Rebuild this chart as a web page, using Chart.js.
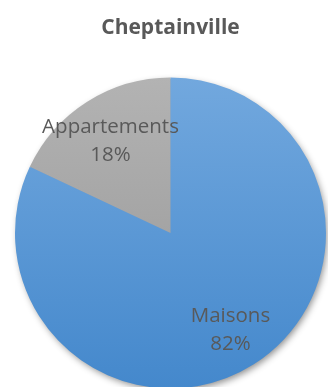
<!DOCTYPE html>
<html lang="fr">
<head>
    <meta charset="UTF-8">
    <title>Cheptainville</title>
    <style>
        html, body { margin: 0; padding: 0; background: #ffffff; overflow: hidden; }
        #wrap { position: relative; width: 328px; height: 389px; }
    </style>
</head>
<body>
    <div id="wrap"><canvas id="pieChart"></canvas></div>

    <script src="https://cdn.jsdelivr.net/npm/chart.js@4.4.1/dist/chart.umd.min.js"></script>
    <script>
        // données
        const labels = ['Maisons', 'Appartements'];
        const values = [82, 18];
        const topColors = ['#72a8de', '#b3b3b3'];
        const bottomColors = ['#4488cc', '#959595'];

        const fillFor = (ctx) => {
            const chart = ctx.chart;
            const area = chart.chartArea;
            if (!area) return topColors[ctx.dataIndex];
            const g = chart.ctx.createLinearGradient(0, area.top, 0, area.bottom);
            g.addColorStop(0, topColors[ctx.dataIndex]);
            g.addColorStop(1, bottomColors[ctx.dataIndex]);
            return g;
        };

        // ombre douce sous le disque
        const shadowPlugin = {
            id: 'shadow',
            beforeDatasetsDraw(chart) {
                const arc = chart.getDatasetMeta(0).data[0];
                if (!arc) return;
                const c = chart.ctx;
                c.save();
                c.shadowColor = 'rgba(0,0,0,0.45)';
                c.shadowBlur = 7;
                c.shadowOffsetX = 2;
                c.shadowOffsetY = 3;
                c.fillStyle = '#5a96d4';
                c.beginPath();
                c.arc(arc.x, arc.y, arc.outerRadius - 1, 0, Math.PI * 2);
                c.fill();
                c.restore();
            }
        };

        // étiquettes "nom + pourcentage" dans les parts
        const labelPlugin = {
            id: 'sliceLabels',
            afterDatasetsDraw(chart) {
                const c = chart.ctx;
                const total = values.reduce((a, b) => a + b, 0);
                chart.getDatasetMeta(0).data.forEach((arc, i) => {
                    const mid = (arc.startAngle + arc.endAngle) / 2;
                    const r = arc.outerRadius * 0.72;
                    const x = arc.x + Math.cos(mid) * r;
                    const y = arc.y + Math.sin(mid) * r + 3;
                    c.save();
                    c.fillStyle = '#595959';
                    c.font = '20.5px "Open Sans"';
                    c.textAlign = 'center';
                    c.textBaseline = 'middle';
                    c.fillText(labels[i], x, y - 14);
                    c.fillText(Math.round(values[i] / total * 100) + '%', x, y + 14);
                    c.restore();
                });
            }
        };

        new Chart(document.getElementById('pieChart'), {
            type: 'pie',
            data: {
                labels: labels,
                datasets: [{
                    data: values,
                    backgroundColor: fillFor,
                    borderWidth: 0
                }]
            },
            options: {
                responsive: true,
                maintainAspectRatio: false,
                animation: false,
                layout: { padding: { left: 15, right: 2, top: 0, bottom: 0 } },
                plugins: {
                    legend: { display: false },
                    tooltip: { enabled: false },
                    title: {
                        display: true,
                        text: 'Cheptainville',
                        color: '#595959',
                        font: { family: '"Open Sans"', size: 21, weight: 'bold', lineHeight: 1.2 },
                        padding: { top: 15.4, bottom: 36.4 }
                    }
                }
            },
            plugins: [shadowPlugin, labelPlugin]
        });
    </script>
</body>
</html>
